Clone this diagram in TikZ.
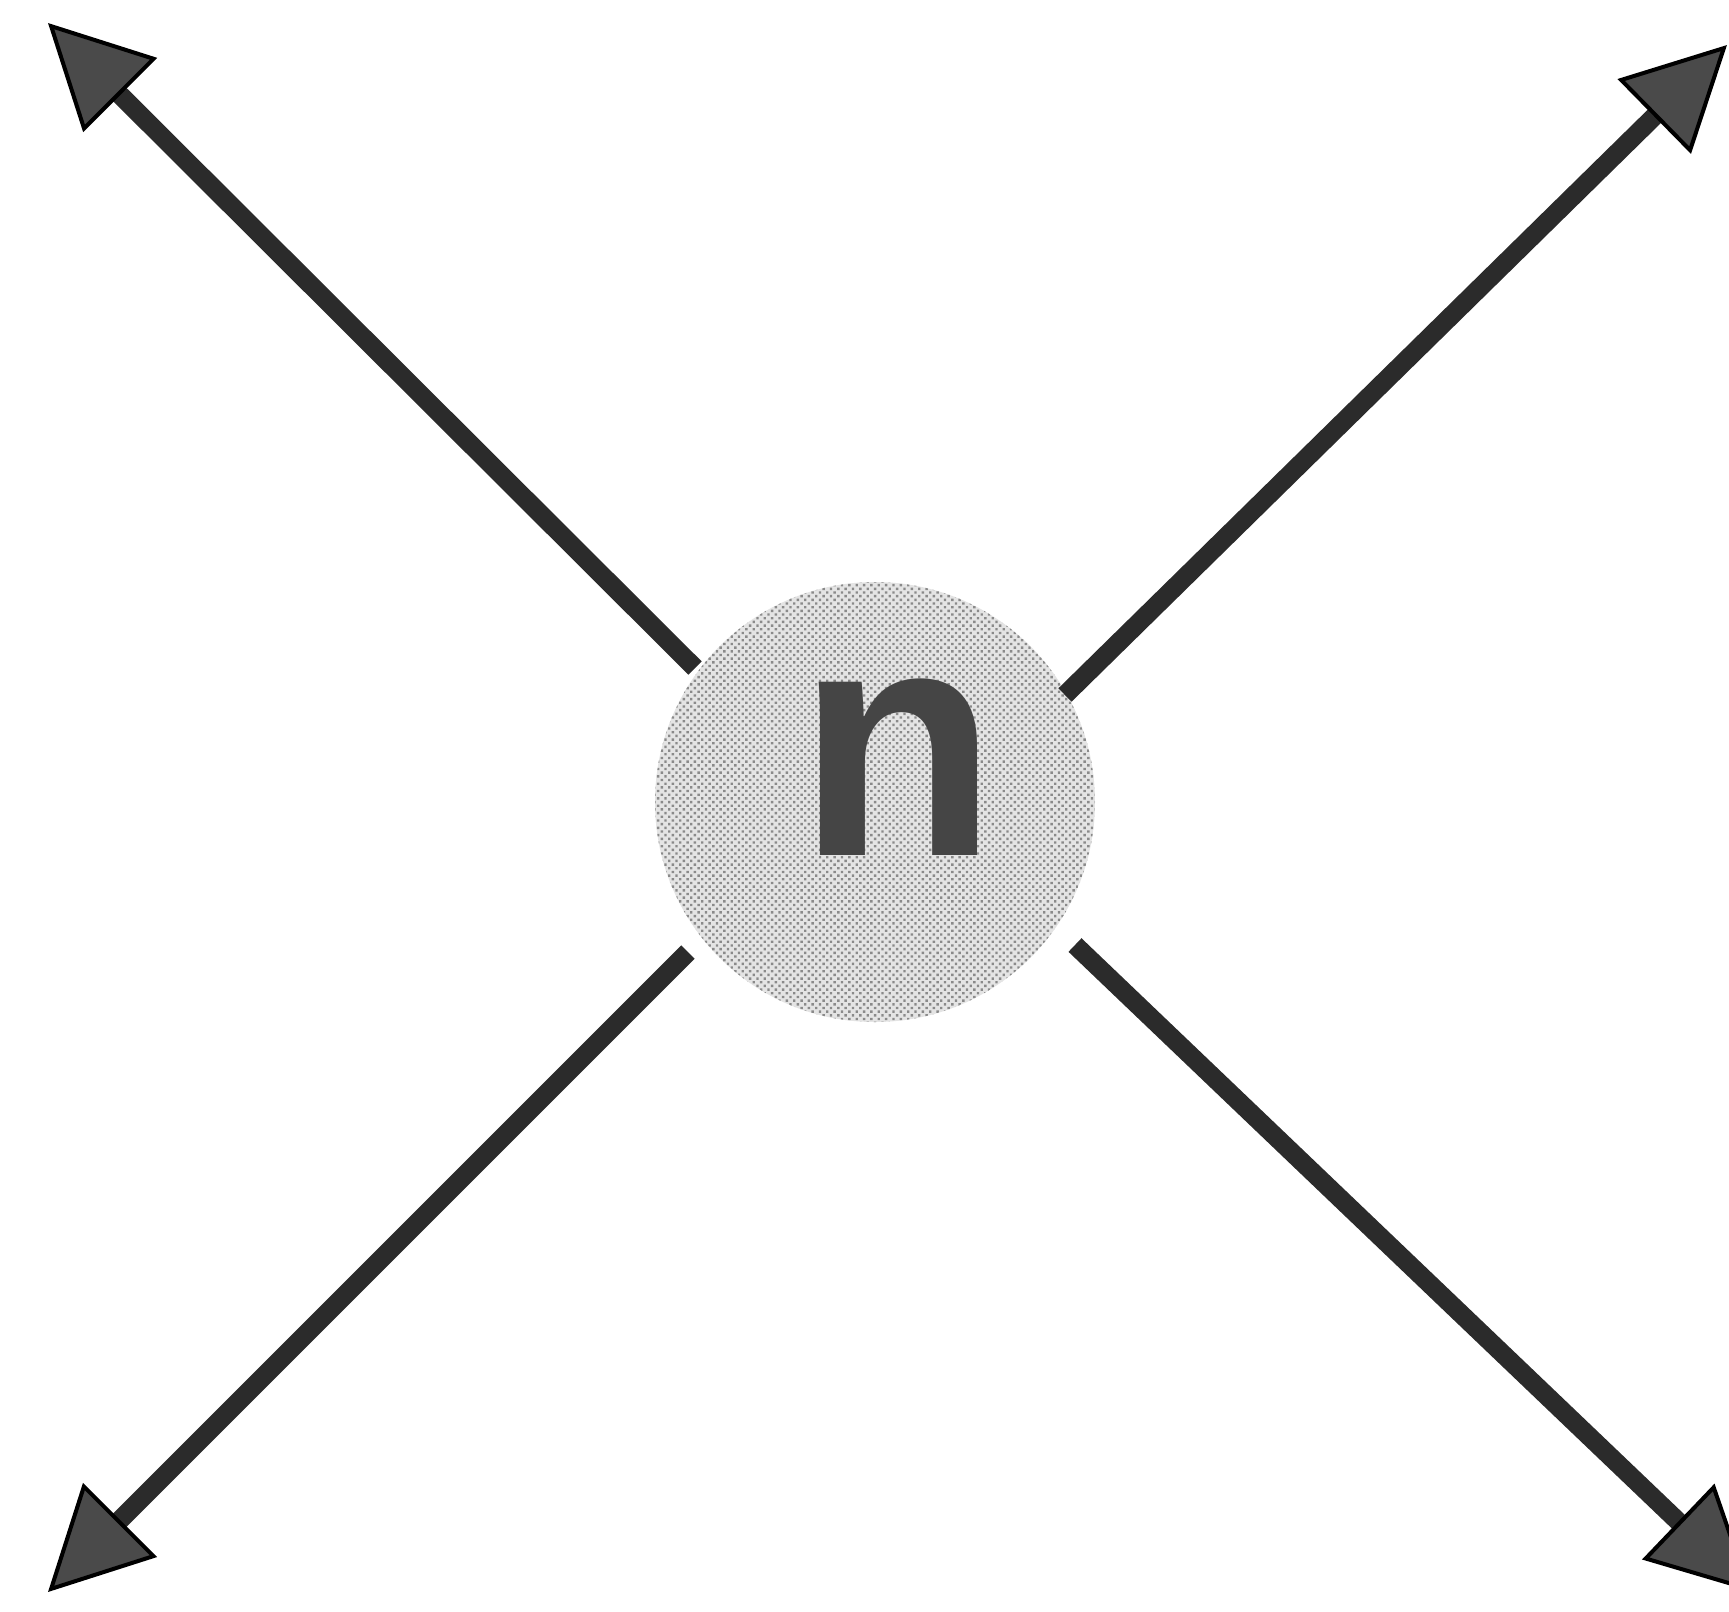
\documentclass[tikz,border=0pt]{standalone}
\usepackage{fontspec}
\newfontfamily\nfont{Liberation Sans}
\usetikzlibrary{arrows.meta,patterns.meta}
\definecolor{shaft}{HTML}{2B2B2B}
\definecolor{headfill}{HTML}{4A4A4A}
\definecolor{disc}{HTML}{E4E4E4}
\definecolor{dotc}{HTML}{8A8A8A}
\definecolor{letter}{HTML}{454545}
\begin{document}
\begin{tikzpicture}[x=0.25pt,y=-0.25pt,
  ray/.style={draw=shaft,line width=4.7pt,line cap=butt,
    -{Triangle[length=25.5pt,width=26pt,line width=1pt,fill=headfill,color=black]}},
  disc/.style={circle,minimum size=110pt,inner sep=0pt,fill=disc,
    postaction={pattern={Dots[distance=1.3pt,radius=0.42pt,angle=45]},pattern color=dotc}},
  letter/.style={inner sep=0pt,text=letter,font=\nfont\bfseries\fontsize{82}{82}\selectfont}]
\useasboundingbox[fill=white] (0,0) rectangle (1729,1611);
\node[disc] (c) at (875,802) {};
\node[letter] (n) at (898,767) {n};
\coordinate (s1) at (695,668);
\coordinate (s2) at (1065,695);
\coordinate (s3) at (688,952);
\coordinate (s4) at (1075,945);
\coordinate (t1) at (48,23);
\coordinate (t2) at (1727,45);
\coordinate (t3) at (48,1592);
\coordinate (t4) at (1752,1592);
\draw[ray] (s1) -- (t1);
\draw[ray] (s2) -- (t2);
\draw[ray] (s3) -- (t3);
\draw[ray] (s4) -- (t4);
\end{tikzpicture}
\end{document}
